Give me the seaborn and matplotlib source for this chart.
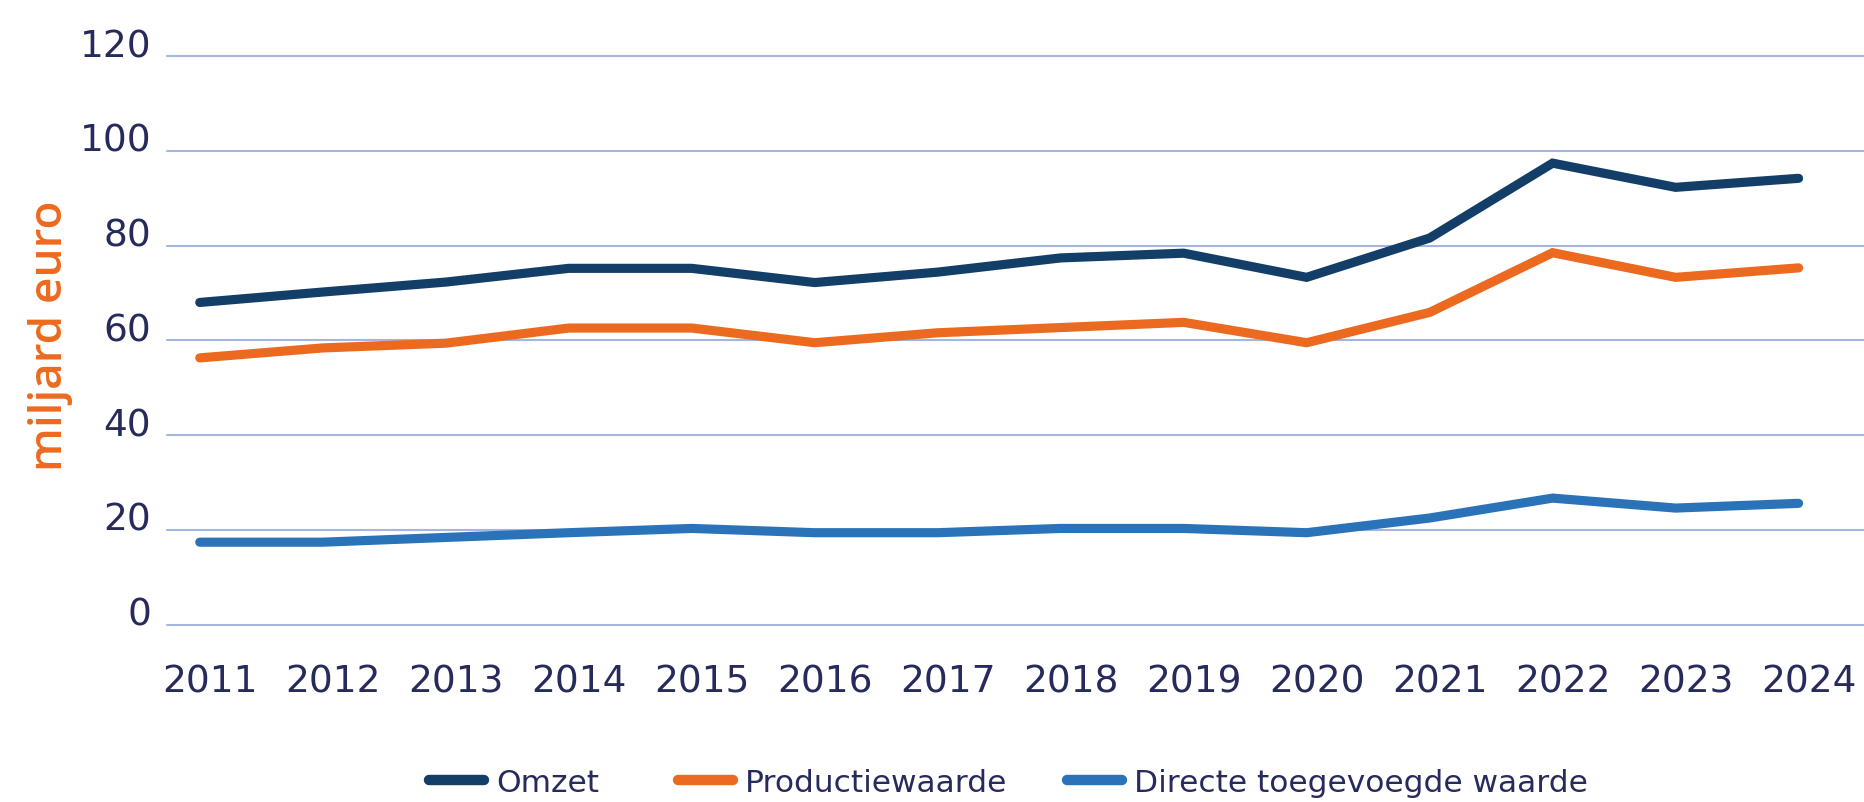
import matplotlib
matplotlib.use("Agg")
import matplotlib.pyplot as plt
import matplotlib.transforms as mtransforms
from matplotlib.lines import Line2D
import seaborn as sns
import pandas as pd

years = list(range(2011, 2025))
omzet = [68.0, 70.2, 72.3, 75.2, 75.2, 72.2, 74.4, 77.4, 78.4, 73.3, 81.6, 97.4, 92.3, 94.2]
productiewaarde = [56.3, 58.4, 59.4, 62.6, 62.6, 59.5, 61.6, 62.7, 63.8, 59.5, 65.9, 78.5, 73.3, 75.3]
directe_tw = [17.4, 17.4, 18.4, 19.4, 20.3, 19.4, 19.4, 20.3, 20.3, 19.4, 22.5, 26.7, 24.6, 25.6]
series_names = ["Omzet", "Productiewaarde", "Directe toegevoegde waarde"]
colors = ["#123E67", "#EC6A1F", "#2A73B9"]
y_ticks = [0, 20, 40, 60, 80, 100, 120]

df = pd.DataFrame({
    "jaar": years * 3,
    "waarde": omzet + productiewaarde + directe_tw,
    "reeks": [series_names[0]] * len(years) + [series_names[1]] * len(years) + [series_names[2]] * len(years),
})

sns.set_style("white")
plt.rcParams["font.family"] = ["DejaVu Sans"]

text_col = "#262B5C"
fig = plt.figure(figsize=(18.65, 8.03), dpi=100)
ax = fig.add_axes([0.0893, 0.2209, 0.9107, 0.7080])

sns.lineplot(data=df, x="jaar", y="waarde", hue="reeks", palette=dict(zip(series_names, colors)),
             hue_order=series_names, linewidth=6.6, ax=ax, legend=False,
             solid_capstyle="round", solid_joinstyle="miter")

ax.set_ylim(0, 120)
ax.set_xlim(2011 - 0.27, 2024 + 0.54)
ax.set_yticks(y_ticks)
ax.set_xticks(years)
ax.set_xticklabels([str(y) for y in years])
for y in y_ticks:
    ax.axhline(y, color="#A4B6DF", linewidth=1.5, zorder=0, clip_on=False)
for s in ax.spines.values():
    s.set_visible(False)
ax.tick_params(axis="y", length=0, pad=11, labelsize=27, labelcolor=text_col)
ax.tick_params(axis="x", length=0, pad=28, labelsize=27, labelcolor=text_col)
ax.set_xlabel("")
ax.set_ylabel("")
for lab in ax.get_yticklabels():
    lab.set_va("baseline")
offset = mtransforms.ScaledTranslation(0.1, 0, fig.dpi_scale_trans)
for lab in ax.get_xticklabels():
    lab.set_transform(lab.get_transform() + offset)

fig.text(0.027, 0.582, "miljard euro", rotation=90, ha="center", va="center",
         color="#EC6A1F", fontsize=33, fontweight="semibold", family=["Open Sans", "DejaVu Sans"])

# legend entries
leg_x = [429 / 1865, 678 / 1865, 1067 / 1865]
for name, col, lx in zip(series_names, colors, leg_x):
    h = Line2D([0], [0], color=col, linewidth=7.5, solid_capstyle="round")
    fig.legend([h], [name], loc="center left", bbox_to_anchor=(lx, 0.024), frameon=False,
               prop={"family": ["DejaVu Sans"], "size": 22.5},
               handlelength=1.75, handletextpad=0.4, borderpad=0, borderaxespad=0,
               labelcolor=text_col)

fig.savefig("out.png", dpi=100)
